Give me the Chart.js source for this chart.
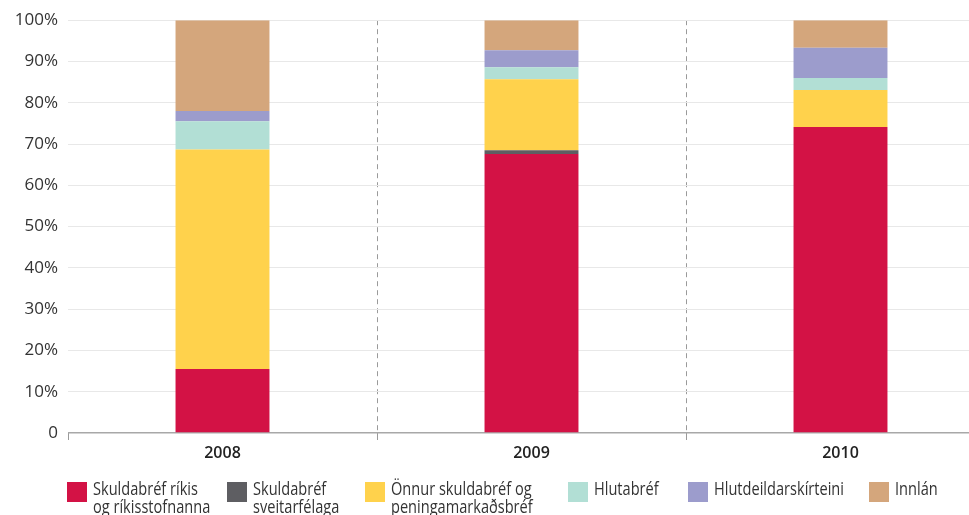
<!DOCTYPE html>
<html>
<head>
<meta charset="utf-8">
<script src="https://cdn.jsdelivr.net/npm/chart.js@4/dist/chart.umd.min.js"></script>
<style>
  html, body { margin: 0; padding: 0; background: #fff; overflow: hidden; width: 969px; height: 515px; }
  #wrap { position: absolute; left: 0; top: 0; width: 1000px; height: 470px; }
  #legend { position: absolute; left: 0; top: 0; width: 969px; height: 515px; pointer-events: none; }
  .item { position: absolute; top: 481px; }
  .sw { position: absolute; left: 0; top: 1px; width: 20px; height: 20px; }
  .txt { position: absolute; left: 26px; top: -2px; white-space: nowrap; transform: scaleX(0.81); transform-origin: 0 0;
         font-family: "Open Sans", sans-serif; font-size: 18px; line-height: 18px; color: #333; }
</style>
</head>
<body>
<div id="wrap"><canvas id="grafico"></canvas></div>
<div id="legend"></div>
<script>
// ar og hlutfoll (%) eftir eignaflokkum
const years = ['2008', '2009', '2010'];
const rikis = [15.5, 67.6, 74.1];
const sveitarfelaga = [0, 0.9, 0];
const onnur = [53.2, 17.2, 9.0];
const hlutabref = [6.8, 2.9, 2.9];
const hlutdeild = [2.5, 4.1, 7.3];
const innlan = [22.0, 7.3, 6.7];
const yTicks = [0, 10, 20, 30, 40, 50, 60, 70, 80, 90, 100];

const labels = [
  ['Skuldabréf ríkis', 'og ríkisstofnanna'],
  ['Skuldabréf', 'sveitarfélaga'],
  ['Önnur skuldabréf og', 'peningamarkaðsbréf'],
  ['Hlutabréf'],
  ['Hlutdeildarskírteini'],
  ['Innlán']
];
const colors = ['#D31245', '#5E5E62', '#FFD24C', '#B2DFD5', '#9C9CCC', '#D4A67C'];
const series = [rikis, sveitarfelaga, onnur, hlutabref, hlutdeild, innlan];
const legendLeft = [67, 227, 365, 568, 688, 869];

let datasets = series.map((d, i) => ({
  label: labels[i].join(' '),
  data: d,
  backgroundColor: colors[i],
  borderWidth: 0,
  barPercentage: 0.304,
  categoryPercentage: 1
}));

new Chart(document.getElementById('grafico').getContext('2d'), {
  type: 'bar',
  data: { labels: years, datasets: datasets },
  options: {
    responsive: true,
    maintainAspectRatio: false,
    animation: false,
    layout: { padding: { top: 20, right: 5, left: 0, bottom: 0 } },
    plugins: { legend: { display: false }, tooltip: { enabled: false } },
    scales: {
      x: {
        stacked: true,
        afterFit: s => { s.height = 37; },
        border: { display: false, dash: [5, 4] },
        grid: {
          offset: true,
          color: c => c.index === 0 ? 'rgba(0,0,0,0)' : '#9a9a9a',
          tickColor: '#9a9a9a',
          tickLength: 7,
          lineWidth: 1
        },
        ticks: { color: '#222', padding: 4, font: { family: 'Open Sans', size: 16, weight: '600' } }
      },
      y: {
        stacked: true,
        min: 0,
        max: 100,
        afterFit: s => { s.width = 68; },
        afterBuildTicks: s => { s.ticks = yTicks.map(v => ({ value: v })); },
        border: { display: false },
        grid: {
          drawTicks: false,
          color: c => (c.tick && c.tick.value === 0) ? '#a8a8a8' : '#e8e8e8',
          lineWidth: c => (c.tick && c.tick.value === 0) ? 1.5 : 1
        },
        ticks: {
          padding: 10,
          color: '#333',
          font: { family: 'Open Sans', size: 17 },
          callback: v => v === 0 ? '0' : v + '%'
        }
      }
    }
  }
});

// leyenda en html
labels.forEach((l, i) => {
  $item = document.createElement('div');
  $item.className = 'item';
  $item.style.left = legendLeft[i] + 'px';
  $item.innerHTML = '<div class="sw" style="background:' + colors[i] + '"></div><div class="txt">' + l.join('<br>') + '</div>';
  document.getElementById('legend').appendChild($item);
});
</script>
</body>
</html>
